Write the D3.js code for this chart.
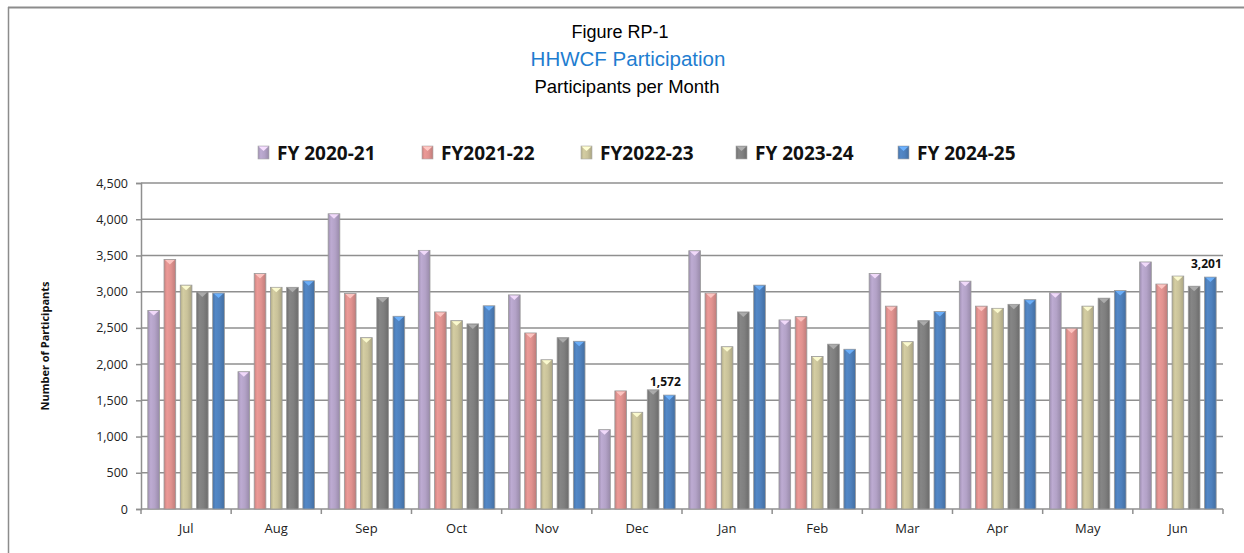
<!DOCTYPE html>
<html>
<head>
<meta charset="utf-8">
<script src="https://cdn.jsdelivr.net/npm/d3@7"></script>
<style>
  body { margin: 0; background: #fff; }
  svg { display: block; }
</style>
</head>
<body>
<div id="chart"></div>
<script>
// Data
const months = ['Jul', 'Aug', 'Sep', 'Oct', 'Nov', 'Dec', 'Jan', 'Feb', 'Mar', 'Apr', 'May', 'Jun']
const seriesNames = ['FY 2020-21', 'FY2021-22', 'FY2022-23', 'FY 2023-24', 'FY 2024-25']
const fy2021 = [2740, 1895, 4075, 3570, 2955, 1095, 3565, 2610, 3250, 3145, 2985, 3410]
const fy2122 = [3445, 3250, 2975, 2720, 2430, 1630, 2980, 2655, 2800, 2800, 2495, 3105]
const fy2223 = [3090, 3060, 2365, 2600, 2060, 1335, 2240, 2105, 2310, 2770, 2800, 3215]
const fy2324 = [2995, 3060, 2920, 2555, 2365, 1645, 2720, 2275, 2600, 2825, 2910, 3075]
const fy2425 = [2980, 3150, 2660, 2805, 2315, 1572, 3090, 2205, 2725, 2890, 3015, 3201]
const yTicks = [0, 500, 1000, 1500, 2000, 2500, 3000, 3500, 4000, 4500]
const labelled = [{ month: 'Dec', series: 4 }, { month: 'Jun', series: 4 }]

const seriesValues = [fy2021, fy2122, fy2223, fy2324, fy2425]
const colors = ['#b3a2c7', '#e0928f', '#c9c29a', '#7f7f7f', '#4f81bd']

// Dimensions
const width = 1244, height = 553
const plot = { left: 141, right: 1223, top: 183, bottom: 509 }

const svg = d3.select('#chart')
  .append('svg')
  .attr('width', width)
  .attr('height', height)

// gradients for the rounded bar look
const defs = svg.append('defs')
colors.forEach((c, i) => {
  const g = defs.append('linearGradient')
    .attr('id', 'grad' + i)
    .attr('x1', '0%').attr('x2', '100%')
    .attr('y1', '0%').attr('y2', '0%')
  const base = d3.color(c)
  g.append('stop').attr('offset', '0%').attr('stop-color', base.darker(0.35))
  g.append('stop').attr('offset', '25%').attr('stop-color', base.brighter(0.15))
  g.append('stop').attr('offset', '60%').attr('stop-color', base)
  g.append('stop').attr('offset', '100%').attr('stop-color', base.darker(0.45))
})

// frame
svg.append('line')
  .attr('x1', 8).attr('x2', width).attr('y1', 7.5).attr('y2', 7.5)
  .attr('stroke', '#8c8c8c').attr('stroke-width', 2)
svg.append('line')
  .attr('x1', 8.5).attr('x2', 8.5).attr('y1', 7).attr('y2', height)
  .attr('stroke', '#8c8c8c').attr('stroke-width', 1.5)

// Titles
svg.append('text')
  .attr('x', 620).attr('y', 38)
  .attr('text-anchor', 'middle')
  .style('font-family', 'Liberation Sans, Arial, sans-serif')
  .style('font-size', '18px')
  .attr('fill', '#000')
  .text('Figure RP-1')
svg.append('text')
  .attr('x', 628).attr('y', 66)
  .attr('text-anchor', 'middle')
  .style('font-family', 'Liberation Sans, Arial, sans-serif')
  .style('font-size', '20.5px')
  .attr('fill', '#1e7dd0')
  .text('HHWCF Participation')
svg.append('text')
  .attr('x', 627).attr('y', 93)
  .attr('text-anchor', 'middle')
  .style('font-family', 'Liberation Sans, Arial, sans-serif')
  .style('font-size', '18.5px')
  .attr('fill', '#000')
  .text('Participants per Month')

// Scales
const xScale = d3.scaleBand()
  .domain(months)
  .range([plot.left, plot.right])
  .padding(0)

const xInner = d3.scaleBand()
  .domain(d3.range(seriesNames.length))
  .range([0, xScale.bandwidth()])
  .paddingInner(0.28)
  .paddingOuter(0.42)

const yScale = d3.scaleLinear()
  .domain([0, 4500])
  .range([plot.bottom, plot.top])

// gridlines
svg.append('g')
  .selectAll('line')
  .data(yTicks.slice(1))
  .join('line')
  .attr('x1', plot.left).attr('x2', plot.right)
  .attr('y1', d => yScale(d)).attr('y2', d => yScale(d))
  .attr('stroke', '#8f8f8f')
  .attr('stroke-width', 1.5)

// y axis
const yAxis = d3.axisLeft(yScale)
  .tickValues(yTicks)
  .tickSize(5)
  .tickPadding(8)
  .tickFormat(d3.format(','))
const yAxisGroup = svg.append('g')
  .attr('transform', `translate(${plot.left}, 0)`)
  .call(yAxis)
yAxisGroup.select('.domain').attr('stroke', '#8f8f8f').attr('stroke-width', 1.5)
yAxisGroup.selectAll('.tick line').attr('stroke', '#8f8f8f').attr('stroke-width', 1.5)
yAxisGroup.selectAll('.tick text')
  .style('font-family', 'Open Sans, sans-serif')
  .style('font-size', '12.5px')
  .attr('fill', '#222')

// x axis, ticks at month boundaries
const xAxisGroup = svg.append('g')
  .attr('transform', `translate(0, ${plot.bottom})`)
xAxisGroup.append('line')
  .attr('x1', plot.left).attr('x2', plot.right)
  .attr('stroke', '#8f8f8f').attr('stroke-width', 1.5)
xAxisGroup.selectAll('.bound')
  .data(months.concat(['end']))
  .join('line')
  .attr('class', 'bound')
  .attr('x1', (d, i) => plot.left + i * xScale.step())
  .attr('x2', (d, i) => plot.left + i * xScale.step())
  .attr('y1', 0).attr('y2', 5)
  .attr('stroke', '#8f8f8f').attr('stroke-width', 1.5)
xAxisGroup.selectAll('.mlabel')
  .data(months)
  .join('text')
  .attr('class', 'mlabel')
  .attr('x', d => xScale(d) + xScale.bandwidth() / 2)
  .attr('y', 24)
  .attr('text-anchor', 'middle')
  .style('font-family', 'Open Sans, sans-serif')
  .style('font-size', '13px')
  .attr('fill', '#222')
  .text(d => d)

// y axis title
svg.append('text')
  .attr('transform', `translate(49, 346) rotate(-90)`)
  .attr('text-anchor', 'middle')
  .style('font-family', 'Open Sans, sans-serif')
  .style('font-size', '11px')
  .style('font-weight', 'bold')
  .attr('fill', '#111')
  .text('Number of Participants')

// Bars
const barData = []
months.forEach((m, mi) => {
  seriesValues.forEach((vals, si) => {
    barData.push({ month: m, series: si, value: vals[mi] })
  })
})

const bars = svg.append('g')
  .selectAll('g')
  .data(barData)
  .join('g')
  .attr('transform', d => `translate(${xScale(d.month) + xInner(d.series)}, 0)`)

const bw = xInner.bandwidth()
bars.append('rect')
  .attr('x', 0)
  .attr('y', d => yScale(d.value))
  .attr('width', bw)
  .attr('height', d => plot.bottom - yScale(d.value))
  .attr('fill', d => `url(#grad${d.series})`)
  .attr('stroke', '#9a9a9a')
  .attr('stroke-width', 0.8)

// top bevel notch
bars.append('path')
  .attr('d', d => {
    const y = yScale(d.value)
    return `M1,${y + 0.5} L${bw - 1},${y + 0.5} L${bw / 2},${y + 5} Z`
  })
  .attr('fill', d => d3.color(colors[d.series]).brighter(0.9))
  .attr('opacity', 0.9)

// Data labels
svg.append('g')
  .selectAll('text')
  .data(labelled)
  .join('text')
  .attr('x', d => xScale(d.month) + xInner(d.series) + bw / 2 - 4)
  .attr('y', d => yScale(seriesValues[d.series][months.indexOf(d.month)]) - 9)
  .attr('text-anchor', 'middle')
  .style('font-family', 'Open Sans, sans-serif')
  .style('font-size', '12px')
  .style('font-weight', 'bold')
  .attr('fill', '#111')
  .text(d => d3.format(',')(seriesValues[d.series][months.indexOf(d.month)]))

// Legend
const legendX = [258, 422, 581, 736, 898]
const legend = svg.append('g')
  .selectAll('g')
  .data(seriesNames)
  .join('g')
  .attr('transform', (d, i) => `translate(${legendX[i]}, 153)`)
legend.append('rect')
  .attr('x', 0).attr('y', -7)
  .attr('width', 11).attr('height', 13)
  .attr('fill', (d, i) => `url(#grad${i})`)
  .attr('stroke', '#aaa').attr('stroke-width', 0.6)
legend.append('path')
  .attr('d', 'M0.5,-6.5 L10.5,-6.5 L5.5,-2 Z')
  .attr('fill', (d, i) => d3.color(colors[i]).brighter(0.9))
legend.append('text')
  .attr('x', 19).attr('y', 7)
  .style('font-family', 'Open Sans, sans-serif')
  .style('font-size', '19px')
  .style('font-weight', 'bold')
  .attr('fill', '#111')
  .text(d => d)
</script>
</body>
</html>
